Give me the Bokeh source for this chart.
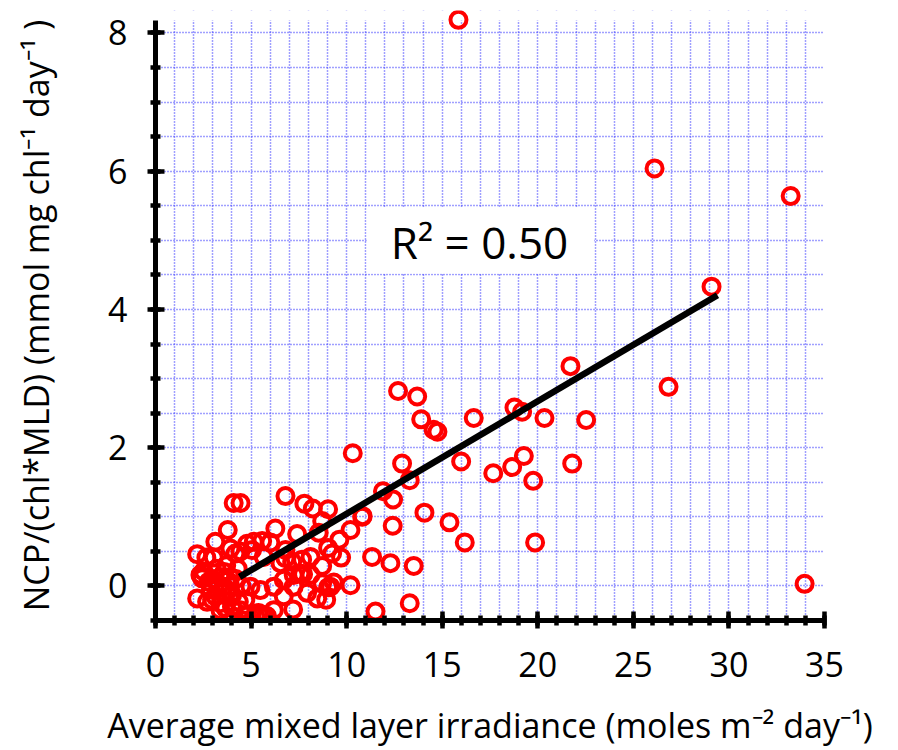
from bokeh.plotting import figure
from bokeh.models import Range1d, SingleIntervalTicker, BoxAnnotation, Label
from bokeh.embed import file_html
from bokeh.resources import INLINE

# ---- data ----
irradiance = [
    15.85, 26.11, 33.23, 29.09, 26.84, 33.96,
    21.71, 12.69, 13.69, 13.90, 14.55, 14.75, 16.65, 18.78, 19.18, 20.35, 22.53,
    10.32, 12.90, 13.30, 15.99, 17.67, 18.66, 19.27, 19.76, 21.80,
    11.90, 12.43, 10.84, 14.07, 15.38, 12.41, 16.18, 19.86, 13.51, 13.30,
    4.09, 4.45, 6.80, 7.79, 8.23, 9.03, 10.81, 3.78, 6.27, 7.41, 10.20, 8.72,
    8.54, 9.62, 9.03, 9.71, 11.33, 12.29, 8.72, 7.72, 10.20, 9.33, 9.03, 7.93,
    8.93, 11.51, 7.20, 5.79, 5.40, 4.62, 4.79,
    2.18, 2.66, 3.05, 3.13, 3.92, 4.18, 4.79, 5.05, 5.58, 6.01, 6.80, 6.80,
    7.15, 7.67, 7.58, 2.18, 2.70, 2.52, 2.44, 2.78, 2.96, 3.40, 3.66, 4.36,
    5.14, 4.44, 5.66, 2.35, 3.13, 3.57, 3.40, 3.92, 4.01, 4.44, 5.23, 5.84,
    6.19, 4.97, 5.49, 6.19, 6.71, 7.23, 6.71, 6.54, 8.11, 7.23, 8.11, 9.24,
    8.72, 9.15, 8.46, 3.00, 3.30, 3.60, 3.90, 4.20, 3.50, 4.00, 4.30, 3.20,
    2.90, 3.70, 4.50, 4.70, 3.40, 4.10, 5.60,
]
ncp_norm = [
    8.19, 6.04, 5.64, 4.33, 2.88, 0.03,
    3.18, 2.82, 2.74, 2.41, 2.26, 2.23, 2.43, 2.58, 2.52, 2.43, 2.40,
    1.92, 1.77, 1.53, 1.80, 1.63, 1.72, 1.88, 1.52, 1.77,
    1.37, 1.25, 1.01, 1.06, 0.92, 0.87, 0.63, 0.63, 0.29, -0.25,
    1.20, 1.20, 1.30, 1.19, 1.12, 1.11, 1.00, 0.81, 0.83, 0.75, 0.81, 0.94,
    0.77, 0.67, 0.55, 0.41, 0.42, 0.33, 0.29, 0.17, 0.01, 0.05, -0.02, -0.10,
    -0.20, -0.37, -0.34, -0.43, -0.39, -0.50, -0.42,
    0.46, 0.41, 0.41, 0.64, 0.54, 0.47, 0.61, 0.52, 0.65, 0.63, 0.52, 0.40,
    0.35, 0.38, 0.18, -0.18, -0.23, 0.21, 0.11, 0.06, -0.20, -0.25, -0.32, -0.23,
    0.64, 0.50, 0.42, 0.16, -0.15, -0.01, 0.13, 0.13, -0.13, -0.35, -0.44, -0.44,
    -0.35, -0.01, -0.06, -0.01, 0.09, -0.01, -0.15, 0.33, 0.16, 0.16, 0.42, 0.47,
    0.04, -0.01, -0.18, 0.10, 0.00, 0.20, 0.00, 0.10, -0.10, -0.30, 0.25, 0.25,
    -0.05, 0.30, 0.00, -0.20, -0.35, -0.45, -0.42,
]

# linear fit shown on the chart
fit_slope = 0.163
fit_intercept = -0.586
fit_x = [4.4, 29.4]
fit_y = [fit_intercept + fit_slope * v for v in fit_x]
r2_text = "R\u00b2 = 0.50"
x_title = "Average mixed layer irradiance (moles m\u207b\u00b2 day\u207b\u00b9)"
y_title = "NCP/(chl*MLD) (mmol mg chl\u207b\u00b9 day\u207b\u00b9 )"

FONT = "Open Sans"
GRID = "#4040ff"
Y_AXIS_TOP = 8.18

p = figure(width=898, height=750, output_backend="svg", toolbar_location=None,
           x_range=Range1d(0, 35), y_range=Range1d(-0.5, 8.325))
p.min_border_left = 155
p.min_border_right = 74
p.min_border_top = 10
p.min_border_bottom = 130
p.outline_line_color = None
p.background_fill_color = "white"
p.border_fill_color = "white"

p.xaxis.ticker = SingleIntervalTicker(interval=5, num_minor_ticks=5)
p.yaxis.ticker = SingleIntervalTicker(interval=2, num_minor_ticks=4)
p.yaxis.bounds = (-0.5, Y_AXIS_TOP)

p.xgrid.ticker = SingleIntervalTicker(interval=1)
p.ygrid.ticker = SingleIntervalTicker(interval=0.5)
for g in (p.xgrid, p.ygrid):
    g.grid_line_color = GRID
    g.grid_line_dash = "1 2"
    g.grid_line_width = 1.5

for ax in (p.xaxis, p.yaxis):
    ax.axis_line_width = 5
    ax.major_tick_line_width = 4.5
    ax.minor_tick_line_width = 4.5
    ax.major_tick_in = 9
    ax.major_tick_out = 8
    ax.minor_tick_in = 5
    ax.minor_tick_out = 5
    ax.major_label_text_font = FONT
    ax.major_label_text_font_size = "34px"
    ax.major_label_text_color = "black"
    ax.axis_label_text_font = FONT
    ax.axis_label_text_font_size = "34px"
    ax.axis_label_text_font_style = "normal"
    ax.axis_label_text_color = "black"

p.xaxis.major_label_standoff = 23
p.yaxis.major_label_standoff = 20
p.xaxis.axis_label = x_title
p.yaxis.axis_label = y_title
p.xaxis.axis_label_standoff = 22
p.yaxis.axis_label_standoff = 46

# hide grid above the top of the y axis (underlay, below the points)
p.add_layout(BoxAnnotation(bottom=Y_AXIS_TOP, fill_color="white", fill_alpha=1.0,
                           line_color=None, level="underlay"))
# white panel behind the R^2 annotation
p.add_layout(BoxAnnotation(left=11.05, right=22.95, bottom=4.52, top=5.48,
                           fill_color="white", fill_alpha=1.0, line_color=None))

p.scatter(irradiance, ncp_norm, marker="circle", size=16, fill_color=None,
          line_color="#ff0000", line_width=4)
p.line(fit_x, fit_y, line_color="black", line_width=6.5)

p.add_layout(Label(x=16.95, y=4.98, text=r2_text, text_align="center",
                   text_baseline="middle", text_font=FONT,
                   text_font_size="44px", text_color="black"))

open("out.html", "w").write(file_html(p, INLINE))
